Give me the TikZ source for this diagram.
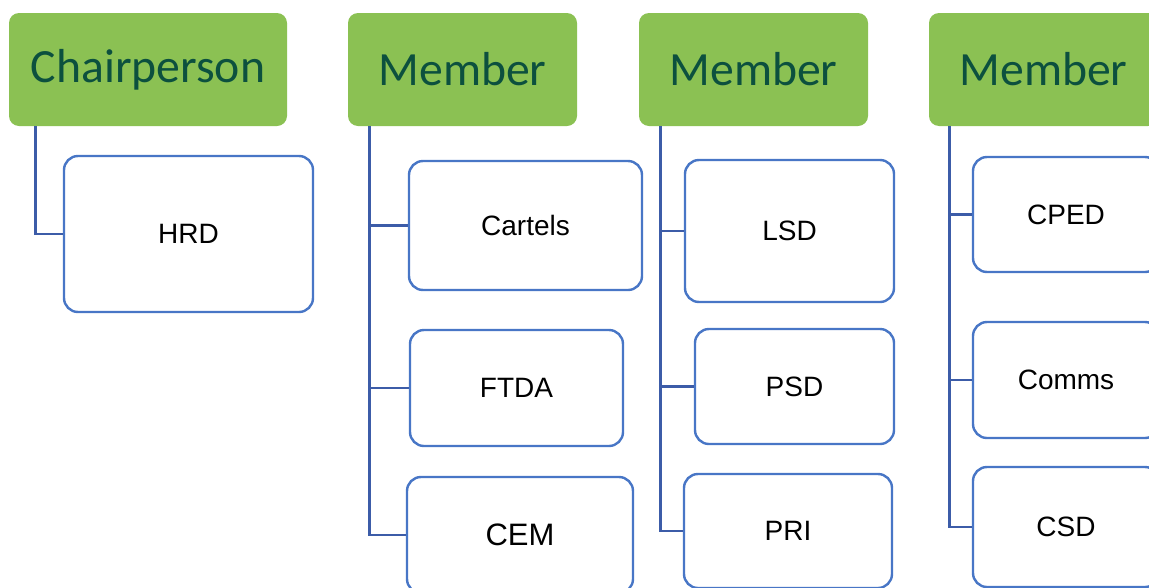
\documentclass[tikz,border=0pt]{standalone}
\usepackage{fontspec}
\setmainfont{Liberation Sans}
\newfontfamily\headfont{Carlito}
\definecolor{headgreen}{RGB}{139,193,83}
\definecolor{headtext}{RGB}{12,80,62}
\definecolor{unitblue}{RGB}{72,118,198}
\definecolor{linkblue}{RGB}{60,92,168}
\tikzset{
	head/.style={fill=headgreen, rounded corners=10pt, minimum width=229pt, minimum height=113pt, inner sep=0pt, text=headtext, font=\headfont\fontsize{47.7}{50}\selectfont},
	unit/.style={draw=unitblue, line width=2.4pt, fill=white, rounded corners=14pt, inner sep=0pt, font=\fontsize{28}{30}\selectfont},
	link/.style={draw=linkblue, line width=2.8pt}
}
\begin{document}
\begin{tikzpicture}[x=1pt,y=1pt,yscale=-1,xscale=1]
	\useasboundingbox (0,0) rectangle (1149,587);
	\clip (0,0) rectangle (1149,587);

	% Heads
	\node[head, minimum width=278pt] (chair) at (148,69.5) {Chairperson};
	\node[head] (memA) at (462.5,69.5) {Member};
	\node[head] (memB) at (753.5,69.5) {Member};
	\node[head] (memC) at (1043.5,69.5) {Member};

	% Units under chairperson
	\node[unit, minimum width=249pt, minimum height=156pt] (hrd) at (188.5,234) {HRD};

	% Units under first member
	\node[unit, minimum width=233pt, minimum height=129pt] (cartels) at (525.5,225.5) {Cartels};
	\node[unit, minimum width=213pt, minimum height=116pt] (ftda) at (516.5,388) {FTDA};
	\node[unit, minimum width=226pt, minimum height=116pt, font=\fontsize{31}{33}\selectfont] (cem) at (520,535) {CEM};

	% Units under second member
	\node[unit, minimum width=209pt, minimum height=142pt] (lsd) at (789.5,231) {LSD};
	\node[unit, minimum width=199pt, minimum height=115pt] (psd) at (794.5,386.5) {PSD};
	\node[unit, minimum width=208pt, minimum height=114pt] (pri) at (788,531) {PRI};

	% Units under third member
	\node[unit, minimum width=186pt, minimum height=115pt] (cped) at (1066,214.5) {CPED};
	\node[unit, minimum width=186pt, minimum height=116pt] (comms) at (1066,380) {Comms};
	\node[unit, minimum width=186pt, minimum height=120pt] (csd) at (1066,527) {CSD};

	% Connectors
	\draw[link] ([xshift=27pt]chair.south west) |- (hrd.west);
	\draw[link] ([xshift=22pt]memA.south west) |- (cartels.west);
	\draw[link] ([xshift=22pt]memA.south west) |- (ftda.west);
	\draw[link] ([xshift=22pt]memA.south west) |- (cem.west);
	\draw[link] ([xshift=22pt]memB.south west) |- (lsd.west);
	\draw[link] ([xshift=22pt]memB.south west) |- (psd.west);
	\draw[link] ([xshift=22pt]memB.south west) |- (pri.west);
	\draw[link] ([xshift=21pt]memC.south west) |- (cped.west);
	\draw[link] ([xshift=21pt]memC.south west) |- (comms.west);
	\draw[link] ([xshift=21pt]memC.south west) |- (csd.west);

\end{tikzpicture}
\end{document}
